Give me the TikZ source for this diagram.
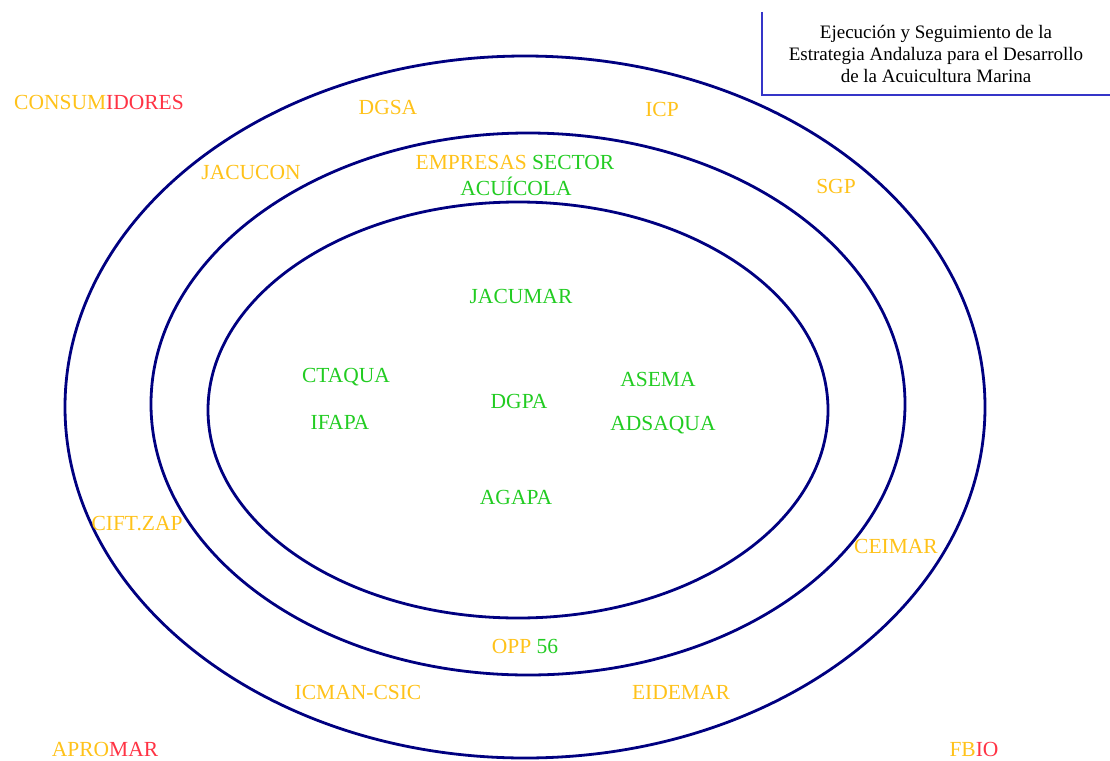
\documentclass[tikz,border=0pt]{standalone}
\usepackage{fontspec}
\setmainfont{Liberation Serif}
\definecolor{ringcolor}{HTML}{000080}
\definecolor{framecolor}{HTML}{3535C8}
\definecolor{goldcolor}{HTML}{FFC21A}
\definecolor{leafcolor}{HTML}{22CC22}
\definecolor{redcolor}{HTML}{FF3344}
\tikzset{ring/.style={draw=ringcolor, line width=2.8pt},%
    actor/.style={inner sep=0pt, outer sep=0pt, font=\fontsize{21.5}{24}\selectfont},%
    gold/.style={actor, text=goldcolor},%
    leaf/.style={actor, text=leafcolor},%
    mixed/.style={actor},%
    title/.style={inner sep=0pt, align=center, font=\fontsize{19}{22}\selectfont}%
}
\begin{document}
\begin{tikzpicture}[x=1pt, y=-1pt]
    \useasboundingbox (0,0) rectangle (1110,760);
    \begin{scope} %draw rings
        \draw[ring] (525,407) ellipse [x radius=460pt, y radius=351pt];
        \draw[ring] (528,404) ellipse [x radius=377pt, y radius=271pt];
        \draw[ring] (518,410) ellipse [x radius=310pt, y radius=208pt];
    \end{scope}
    \begin{scope} %title box
        \draw[framecolor, line width=1.8pt] (762,12) -- (762,95) -- (1110,95);
        \node[title] (title) at (936,54) {Ejecución y Seguimiento de la\\Estrategia Andaluza para el Desarrollo\\de la Acuicultura Marina};
    \end{scope}
    \begin{scope} %add actors
        \foreach \nodename/\nodetype/\xpos/\ypos/\nodetext in {%
                dgsa/gold/388/107/{DGSA},
                icp/gold/662/109/{ICP},
                jacucon/gold/251/172/{JACUCON},
                sgp/gold/836/186/{SGP},
                jacumar/leaf/521/296/{JACUMAR},
                ctaqua/leaf/346/377/{CTAQUA},
                asema/leaf/658/379/{ASEMA},
                dgpa/leaf/519/401/{DGPA},
                ifapa/leaf/340/422/{IFAPA},
                adsaqua/leaf/663/425/{ADSAQUA},
                agapa/leaf/516/497/{AGAPA},
                ciftzap/gold/137/524/{CIFT.ZAP},
                ceimar/gold/896/546/{CEIMAR},
                icman/gold/358/692/{ICMAN-CSIC},
                eidemar/gold/681/692/{EIDEMAR},
                consumidores/mixed/99/102/{\textcolor{goldcolor}{CONSUM}\textcolor{redcolor}{IDORES}},
                empresas/mixed/515/162/{\textcolor{goldcolor}{EMPRESAS} \textcolor{leafcolor}{SECTOR}},
                opp/mixed/525/646/{\textcolor{goldcolor}{OPP} \textcolor{leafcolor}{56}},
                apromar/mixed/105/749/{\textcolor{goldcolor}{APRO}\textcolor{redcolor}{MAR}},
                fbio/mixed/974/749/{\textcolor{goldcolor}{FB}\textcolor{redcolor}{IO}}
            } \node[\nodetype] (\nodename) at (\xpos,\ypos) {\nodetext};
        \node[leaf, anchor=base] (acuicola) at (516,195) {ACUÍCOLA};
    \end{scope}
\end{tikzpicture}
\end{document}
